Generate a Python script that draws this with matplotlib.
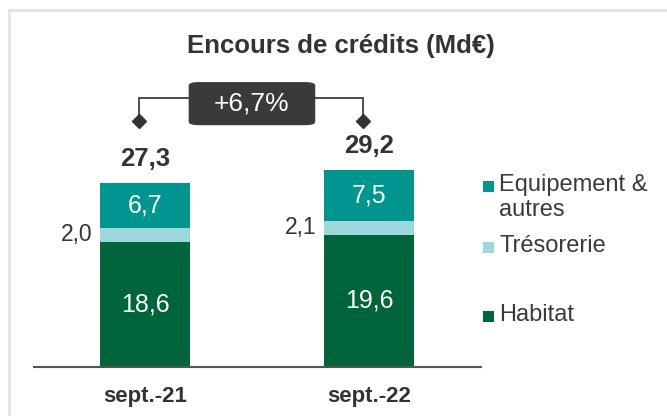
import matplotlib
matplotlib.use('Agg')
import matplotlib.pyplot as plt
from matplotlib.patches import Rectangle, FancyBboxPatch
from matplotlib.lines import Line2D
import numpy as np

# Données
periodes = ['sept.-21', 'sept.-22']
habitat = [18.6, 19.6]
tresorerie = [2.0, 2.1]
equipement = [6.7, 7.5]
totaux = [27.3, 29.2]
variation = '+6,7%'
series = ['Equipement &\nautres', 'Trésorerie', 'Habitat']

c_hab = '#00643c'
c_tre = '#9dd9dc'
c_equ = '#00968f'
c_txt = '#333333'

plt.rcParams['font.family'] = ['Liberation Sans', 'DejaVu Sans']

fig = plt.figure(figsize=(6.67, 4.16), dpi=100)
ax = fig.add_axes([34/667, 49/416, 447/667, 357/416])

x = np.arange(len(periodes))
w = 0.40
hab = np.array(habitat)
tre = np.array(tresorerie)
equ = np.array(equipement)

ax.bar(x, hab, w, color=c_hab)
ax.bar(x, tre, w, bottom=hab, color=c_tre)
ax.bar(x, equ, w, bottom=hab + tre, color=c_equ)

def fmt(v):
    return f'{v:.1f}'.replace('.', ',')

for i in range(len(x)):
    ax.text(x[i], hab[i] / 2, fmt(hab[i]), ha='center', va='center',
            color='white', fontsize=18)
    ax.text(x[i], hab[i] + tre[i] + equ[i] / 2, fmt(equ[i]), ha='center',
            va='center', color='white', fontsize=18)
    ax.text(x[i] - w / 2 - 0.035, hab[i] + tre[i] / 2, fmt(tre[i]), ha='right',
            va='center', color=c_txt, fontsize=16.5)
    ax.text(x[i], totaux[i] + 3.6, fmt(totaux[i]), ha='center', va='center',
            color=c_txt, fontsize=18.5, fontweight='bold')

# Crochet de variation
yd, yl = 36.5, 39.9
x0, x1 = x[0] - 0.027, x[1] - 0.027
ax.plot([x0, x0, x1, x1], [yd, yl, yl, yd], color='#404040', lw=1.3,
        zorder=3, solid_joinstyle='miter')
ax.plot([x0, x1], [yd, yd], 'D', color='#333333', ms=7.5, zorder=4)
box = FancyBboxPatch((0.195, 35.9), 0.565, 6.4,
                     boxstyle='round,pad=0,rounding_size=0.045',
                     mutation_aspect=6.7 / 0.6,
                     facecolor='#3a3a3a', edgecolor='none', zorder=5)
ax.add_patch(box)
ax.text(0.477, 39.1, variation, ha='center', va='center', color='white',
        fontsize=19, zorder=6)

ax.set_xlim(-0.4955, 1.5)
ax.set_ylim(0, 53)
for s in ['top', 'right', 'left']:
    ax.spines[s].set_visible(False)
ax.spines['bottom'].set_color('#555555')
ax.spines['bottom'].set_linewidth(1.5)
ax.set_yticks([])
ax.set_xticks(x)
ax.set_xticklabels(periodes, fontsize=16, fontweight='bold', color=c_txt)
ax.tick_params(axis='x', length=0, pad=14)

fig.text(341/667, 1 - 46/416, 'Encours de crédits (Md€)', ha='center',
         va='center', fontsize=18.5, fontweight='bold', color=c_txt)

# Légende
couleurs = [c_equ, c_tre, c_hab]
ys = [186, 247, 316]
for lab, col, yy in zip(series, couleurs, ys):
    fig.add_artist(Rectangle((483/667, 1 - (yy + 5.5)/416), 11/667, 11/416,
                             transform=fig.transFigure, facecolor=col,
                             edgecolor='none'))
    fig.text(499/667, 1 - (yy - 12)/416, lab, ha='left', va='top',
             fontsize=17, color='#3a3a3a', linespacing=1.15)

# Cadre
fig.add_artist(Line2D([9/667, 9/667], [0, 1 - 10/416], color='#e4e4e4',
                      lw=2, transform=fig.transFigure))
fig.add_artist(Line2D([9/667, 1], [1 - 10/416, 1 - 10/416], color='#e4e4e4',
                      lw=2, transform=fig.transFigure))

fig.savefig('out.png', dpi=100)
